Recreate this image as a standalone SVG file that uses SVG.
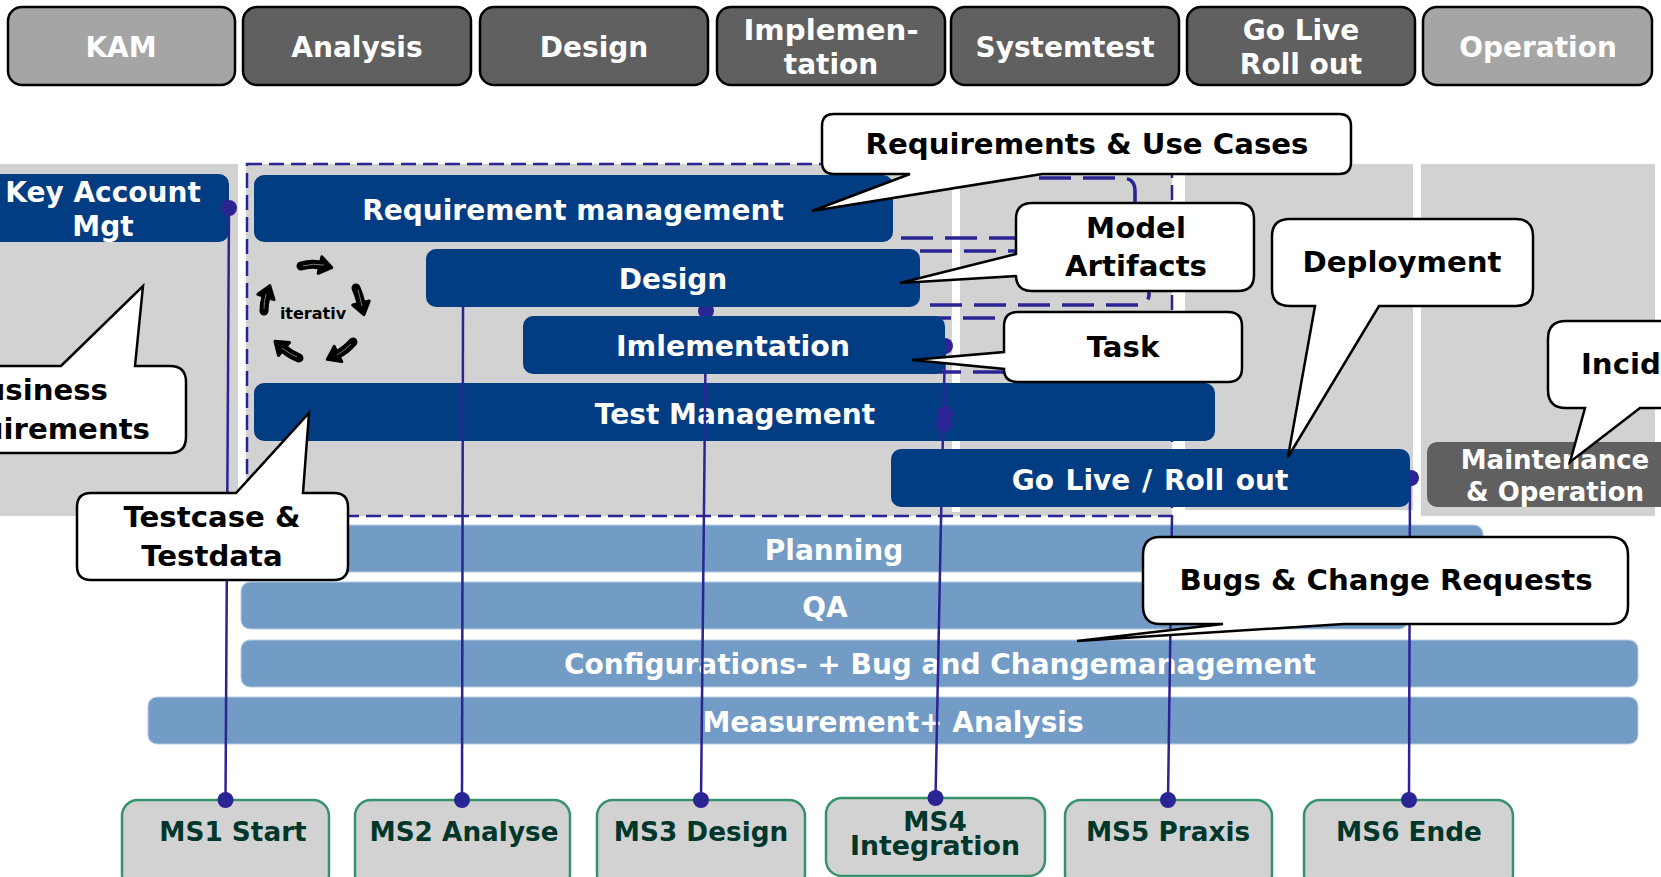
<svg xmlns="http://www.w3.org/2000/svg" width="1661" height="877" viewBox="0 0 1661 877">
<style>
text{font-family:"DejaVu Sans","Liberation Sans",sans-serif;font-weight:700;text-anchor:middle;font-size:28px}
.wt{fill:#fff}.bk{fill:#000;font-size:29.200px}.gn{fill:#00372a;font-size:26.300px}
.bg{fill:#d2d2d2}
.hd{fill:#606060;stroke:#000;stroke-width:2.5}
.hl{fill:#a5a5a5;stroke:#000;stroke-width:2.5}
.pr{fill:#023c82}
.bar{fill:#729bc6;stroke:#b9cde3;stroke-width:1}
.ms{fill:#d2d2d2;stroke:#35936c;stroke-width:2.500}
.co{fill:#fff;stroke:#000;stroke-width:2.5;stroke-linejoin:miter}
.ln{fill:none;stroke:#2b2494;stroke-width:2.5}
.ds{fill:none;stroke:#2b2494;stroke-width:3.600;stroke-dasharray:32 12}
.fr{fill:none;stroke:#2b2494;stroke-width:2.5;stroke-dasharray:15 7}
.dot{fill:#2b2494}
.ar{fill:none;stroke:#000;stroke-width:9;stroke-linecap:round;marker-end:url(#head)}
.ai{fill:none;stroke:#9a9a9a;stroke-width:0.800}
</style>
<defs>
<marker id="head" markerUnits="userSpaceOnUse" markerWidth="18" markerHeight="22" refX="2" refY="11" orient="auto"><path d="M2 2.500 L14 11 L2 19.500Z" fill="#000" stroke="#000" stroke-width="3" stroke-linejoin="round"/></marker>
</defs>
<g id="background">
<rect class="bg" x="0" y="164" width="238" height="352"/>
<rect class="bg" x="246" y="164" width="706" height="352"/>
<rect class="bg" x="952" y="512" width="8" height="4"/>
<rect class="bg" x="960" y="164" width="212" height="352"/>
<rect class="bg" x="1185" y="164" width="228" height="346"/>
<rect class="bg" x="1421" y="164" width="234" height="352"/>
</g>
<g id="phases">
<g id="phase-kam"><rect class="hl" x="8" y="7" width="227" height="78" rx="14"/><text class="wt" x="121" y="57">KAM</text></g>
<g id="phase-analysis"><rect class="hd" x="243" y="7" width="228" height="78" rx="14"/><text class="wt" x="357" y="57">Analysis</text></g>
<g id="phase-design"><rect class="hd" x="480" y="7" width="228" height="78" rx="14"/><text class="wt" x="594" y="57">Design</text></g>
<g id="phase-impl"><rect class="hd" x="717" y="7" width="228" height="78" rx="14"/><text class="wt" x="831" y="40" textLength="175" lengthAdjust="spacingAndGlyphs">Implemen-</text><text class="wt" x="831" y="74">tation</text></g>
<g id="phase-systemtest"><rect class="hd" x="951" y="7" width="228" height="78" rx="14"/><text class="wt" x="1065" y="57">Systemtest</text></g>
<g id="phase-golive"><rect class="hd" x="1187" y="7" width="228" height="78" rx="14"/><text class="wt" x="1301" y="40">Go Live</text><text class="wt" x="1301" y="74">Roll out</text></g>
<g id="phase-operation"><rect class="hl" x="1423" y="7" width="229" height="78" rx="14"/><text class="wt" x="1538" y="57">Operation</text></g>
</g>
<g id="frame">
<rect class="fr" x="247" y="164" width="925" height="352"/>
<path class="ds" d="M1039 178H1122Q1135 178 1135 191V204"/>
<path class="ds" d="M901 238H1016M920 251H1016"/>
<path class="ds" d="M930 305H1138Q1148 305 1149 295V290"/>
<path class="ds" d="M919 318H1010M929 372H1010"/>
</g>
<g id="node-test"><rect class="pr" x="254" y="383" width="961" height="58" rx="10"/><text class="wt" x="735" y="424">Test Management</text></g>
<g id="node-keyaccount"><rect class="pr" x="-20" y="174" width="249" height="68" rx="10"/><text class="wt" x="103" y="202">Key Account</text><text class="wt" x="103" y="236">Mgt</text></g>
<g id="node-maintenance"><rect x="1427" y="442" width="250" height="65" rx="10" fill="#606060"/><text class="wt" style="font-size:26px" x="1555" y="469">Maintenance</text><text class="wt" style="font-size:26px" x="1555" y="501">&amp; Operation</text></g>
<g id="bars">
<g id="bar-planning"><rect class="bar" x="241" y="525" width="1242" height="47" rx="9"/><text class="wt" x="834" y="560">Planning</text></g>
<g id="bar-qa"><rect class="bar" x="241" y="582" width="1167" height="47" rx="9"/><text class="wt" x="825" y="617">QA</text></g>
<g id="bar-config"><rect class="bar" x="241" y="640" width="1397" height="47" rx="9"/><text class="wt" x="940" y="674">Configurations- + Bug and Changemanagement</text></g>
<g id="bar-measure"><rect class="bar" x="148" y="697" width="1490" height="47" rx="9"/><text class="wt" x="893" y="732">Measurement+ Analysis</text></g>
</g>
<g id="milestones">
<g id="ms1"><rect class="ms" x="122" y="800" width="207" height="90" rx="16"/><text class="gn" x="233" y="841">MS1 Start</text></g>
<g id="ms2"><rect class="ms" x="355" y="800" width="215" height="90" rx="16"/><text class="gn" x="464" y="841">MS2 Analyse</text></g>
<g id="ms3"><rect class="ms" x="597" y="800" width="208" height="90" rx="16"/><text class="gn" x="701" y="841">MS3 Design</text></g>
<g id="ms4"><rect class="ms" x="826" y="798" width="219" height="78" rx="16"/><text class="gn" x="935" y="831">MS4</text><text class="gn" x="935" y="855" textLength="170" lengthAdjust="spacingAndGlyphs">Integration</text></g>
<g id="ms5"><rect class="ms" x="1065" y="800" width="207" height="90" rx="16"/><text class="gn" x="1168" y="841">MS5 Praxis</text></g>
<g id="ms6"><rect class="ms" x="1304" y="800" width="209" height="90" rx="16"/><text class="gn" x="1409" y="841">MS6 Ende</text></g>
</g>
<g id="connectors">
<path class="ln" d="M229 208L225.500 800"/>
<path class="ln" d="M463 307L462 800"/>
<path class="ln" d="M706 311L701 800"/>
<path class="ln" d="M945 346L941 520L935.500 798"/>
<path class="ln" d="M1172 516L1168 800"/>
<path class="ln" d="M1410 478L1409 800"/>
<ellipse class="dot" cx="229" cy="208" rx="8" ry="8"/>
<ellipse class="dot" cx="706" cy="311" rx="8" ry="8"/>
<ellipse class="dot" cx="945" cy="346" rx="8" ry="8"/>
<ellipse class="dot" cx="945" cy="414" rx="8" ry="8"/>
<ellipse class="dot" cx="944" cy="424" rx="8" ry="8"/>
<ellipse class="dot" cx="1411" cy="478" rx="8" ry="8"/>
<ellipse class="dot" cx="225.500" cy="800" rx="8" ry="8"/>
<ellipse class="dot" cx="462" cy="800" rx="8" ry="8"/>
<ellipse class="dot" cx="701" cy="800" rx="8" ry="8"/>
<ellipse class="dot" cx="935.500" cy="798" rx="8" ry="8"/>
<ellipse class="dot" cx="1168" cy="800" rx="8" ry="8"/>
<ellipse class="dot" cx="1409" cy="800" rx="8" ry="8"/>
</g>
<g id="node-req"><rect class="pr" x="254" y="175" width="639" height="67" rx="10"/><text class="wt" x="573" y="220">Requirement management</text></g>
<g id="node-design"><rect class="pr" x="426" y="249" width="494" height="58" rx="10"/><text class="wt" x="673" y="289">Design</text></g>
<g id="node-impl"><rect class="pr" x="523" y="316" width="422" height="58" rx="10"/><text class="wt" x="733" y="356" textLength="234" lengthAdjust="spacingAndGlyphs">Imlementation</text></g>
<g id="node-golive"><rect class="pr" x="891" y="449" width="519" height="58" rx="10"/><text class="wt" x="1150" y="490" style="word-spacing:2px">Go Live / Roll out</text></g>
<g id="iterativ">
<path class="ar" d="M301 266Q311 263 320 265"/>
<path class="ar" d="M356 288Q359 295 361 303"/>
<path class="ar" d="M353 342Q346 350 338 354"/>
<path class="ar" d="M299 358Q291 355 284 349"/>
<path class="ar" d="M264 311Q264 303 266 297"/>
<path class="ai" d="M303 266Q313 263 324 265M358 290Q360 297 362 306M351 344Q344 351 337 355M297 357Q290 354 282 348M264 309Q264 301 266 294"/>
<text style="font-size:16px;fill:#000" x="313" y="319">iterativ</text>
</g>
<g id="callouts">
<g id="co-business"><path class="co" d="M-20 366H61L143 286L135 366H170Q186 366 186 382V437Q186 453 170 453H-20Z"/><text class="bk" x="108" y="400" style="text-anchor:end">usiness</text><text class="bk" x="150" y="439" style="text-anchor:end">uirements</text></g>
<g id="co-testcase"><path class="co" d="M91 493H236L309 413L303 493H334Q348 493 348 507V566Q348 580 334 580H91Q77 580 77 566V507Q77 493 91 493Z"/><text class="bk" x="212" y="527">Testcase &amp;</text><text class="bk" x="212" y="566">Testdata</text></g>
<g id="co-req"><path class="co" d="M834 114H1339Q1351 114 1351 126V162Q1351 174 1339 174H1042L812 211L910 174H834Q822 174 822 162V126Q822 114 834 114Z"/><text class="bk" x="1087" y="154">Requirements &amp; Use Cases</text></g>
<g id="co-model"><path class="co" d="M1032 203H1238Q1254 203 1254 219V275Q1254 291 1238 291H1032Q1016 291 1016 275V276L900 283L1016 254V219Q1016 203 1032 203Z"/><text class="bk" x="1136" y="238">Model</text><text class="bk" x="1136" y="276">Artifacts</text></g>
<g id="co-task"><path class="co" d="M1018 312H1228Q1242 312 1242 326V368Q1242 382 1228 382H1018Q1004 382 1004 369L912 360L1004 352V326Q1004 312 1018 312Z"/><text class="bk" x="1123" y="357">Task</text></g>
<g id="co-deploy"><path class="co" d="M1290 219H1516Q1533 219 1533 236V289Q1533 306 1516 306H1379L1288 457L1315 306H1290Q1272 306 1272 289V236Q1272 219 1290 219Z"/><text class="bk" x="1402" y="272">Deployment</text></g>
<g id="co-incident"><path class="co" d="M1680 321H1566Q1548 321 1548 339V390Q1548 408 1566 408H1585L1570 462L1640 408H1680Z"/><text class="bk" x="1581" y="374" style="text-anchor:start">Incid</text></g>
<g id="co-bugs"><path class="co" d="M1160 537H1610Q1628 537 1628 555V606Q1628 624 1610 624H1344L1077 641L1223 624H1160Q1143 624 1143 606V555Q1143 537 1160 537Z"/><text class="bk" x="1386" y="590">Bugs &amp; Change Requests</text></g>
</g>
</svg>
